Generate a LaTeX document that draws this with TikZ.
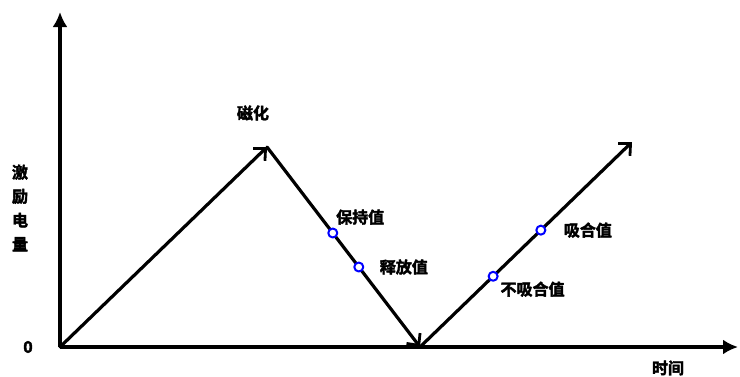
\documentclass[tikz,border=0pt]{standalone}
\usepackage{fontspec}
\newfontfamily\cjk[FakeBold=2.5]{Noto Sans CJK SC Bold}
\usetikzlibrary{arrows.meta,calc}
\tikzset{
  axis/.style={line width=3.2pt, -{Latex[length=15pt,width=15pt]}},
  curve/.style={line width=3.2pt, line cap=round, -{Straight Barb[length=9pt,width=17pt,line width=2.8pt]}},
  pt/.style={circle, draw=blue, fill=white, line width=2pt, inner sep=0pt, minimum size=9pt},
  lbl/.style={font=\cjk\fontsize{16}{18}\selectfont}
}
\begin{document}
\begin{tikzpicture}[x=1pt, y=-1pt, line join=round]
	\useasboundingbox (0,0) rectangle (740,376);
	\coordinate (O) at (60,347);
	\coordinate (Y) at (60,12);
	\coordinate (X) at (738,347);
	\coordinate (P) at (267,147);
	\coordinate (V) at (420,347);
	\coordinate (E) at (632,142);
	\draw[axis] (O)--(Y);
	\draw[axis] (O)--(X);
	\draw[curve] (O)--(P);
	\draw[curve] (P)--(V);
	\draw[curve] (V)--(E);
	\node[pt] (hold) at ($(P)!0.43!(V)$) {};
	\node[pt] (rel) at ($(P)!0.60!(V)$) {};
	\node[pt] (nopull) at ($(V)!0.345!(E)$) {};
	\node[pt] (pull) at ($(V)!0.57!(E)$) {};
	\node[lbl] at (253,113) {磁化};
	\node[lbl, right] at (hold.north east) [yshift=12pt, xshift=-4pt] {保持值};
	\node[lbl, right] at (rel.east) [xshift=12pt] {释放值};
	\node[lbl, right] at (pull.east) [xshift=14pt] {吸合值};
	\node[lbl, right] at (nopull.south east) [yshift=-9pt, xshift=0pt] {不吸合值};
	\node[lbl] at (28,347) {0};
	\node[lbl] at (668,368) {时间};
	\node[lbl, align=center, font=\cjk\fontsize{16}{24}\selectfont] at (20,208) {激\\励\\电\\量};
\end{tikzpicture}
\end{document}
